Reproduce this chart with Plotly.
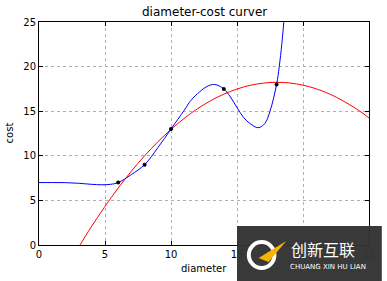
import plotly.graph_objects as go

# Observed data points
diam = [6, 8, 10, 14, 18]
cost = [7, 9, 13, 17.5, 18]

# Red (quadratic) curve
red_x = [0, 2, 3, 4, 6, 8, 10, 12, 14, 16, 18, 20, 22, 24, 25, 26]
red_y = [-8.4, -2.81, -0.27, 2.12, 6.39, 10.0, 12.96, 15.27, 16.91, 17.9, 18.24, 17.92, 16.94, 15.3, 14.24, 13.01]

# Blue (high-degree) curve
blue_x = [0, 1, 2, 3, 4, 4.7, 5.4, 6, 7, 8, 9, 10, 11, 11.5, 12, 12.7, 13.3, 14, 14.5, 15, 15.5, 16, 16.6, 17.1, 17.5, 18, 18.2, 18.4, 18.6]
blue_y = [7.0, 7.0, 6.99, 6.92, 6.8, 6.75, 6.8, 7.0, 7.9, 9.0, 10.9, 13.0, 15.1, 16.2, 16.95, 17.75, 18.0, 17.5, 16.6, 15.4, 14.3, 13.6, 13.15, 13.6, 15.0, 18.0, 20.0, 22.6, 26.0]

x_ticks = [0, 5, 10, 15, 20, 25]
x_tick_text = ["0", "5", "10", "15", "", "25"]  # "20" is hidden under the watermark in the reference
y_ticks = [0, 5, 10, 15, 20, 25]

fig = go.Figure()
fig.add_trace(go.Scatter(x=red_x, y=red_y, mode="lines", line=dict(color="red", width=1, shape="spline"), showlegend=False))
fig.add_trace(go.Scatter(x=blue_x, y=blue_y, mode="lines", line=dict(color="blue", width=1, shape="spline"), showlegend=False))
fig.add_trace(go.Scatter(x=diam, y=cost, mode="markers", marker=dict(color="black", size=4), showlegend=False))

axis_common = dict(
    showgrid=True, gridcolor="#b0b0b0", griddash="dot", gridwidth=1,
    showline=True, linecolor="black", linewidth=1, mirror="ticks",
    ticks="inside", ticklen=4, tickcolor="black",
    zeroline=False, tickfont=dict(family="DejaVu Sans", size=10, color="black"),
)

fig.update_xaxes(range=[0, 25], tickvals=x_ticks, ticktext=x_tick_text, **axis_common)
fig.update_yaxes(range=[0, 25], tickvals=y_ticks, **axis_common)

fig.update_layout(
    width=387, height=281,
    margin=dict(l=39, r=13, t=22, b=36),
    paper_bgcolor="white", plot_bgcolor="white",
    font=dict(family="DejaVu Sans", color="black"),
    annotations=[
        dict(text="diameter-cost curver", x=0.5, y=(245 - 12) / 223, xref="paper", yref="paper",
             showarrow=False, font=dict(size=12), xanchor="center", yanchor="middle"),
        dict(text="diameter", x=(206 - 39) / 335, y=(245 - 268) / 223, xref="paper", yref="paper",
             showarrow=False, font=dict(size=10), xanchor="center", yanchor="middle"),
        dict(text="cost", x=(9 - 39) / 335, y=(245 - 133) / 223, xref="paper", yref="paper",
             showarrow=False, font=dict(size=10), textangle=-90, xanchor="center", yanchor="middle"),
        dict(text="创新互联", x=(327 - 39) / 335, y=(245 - 249) / 223, xref="paper", yref="paper",
             showarrow=False, font=dict(family="Noto Sans CJK SC", size=16, color="white"),
             xanchor="center", yanchor="middle"),
        dict(text="CHUANG XIN HU LIAN", x=(332 - 39) / 335, y=(245 - 267) / 223, xref="paper", yref="paper",
             showarrow=False, font=dict(family="DejaVu Sans", size=7, color="white"),
             xanchor="center", yanchor="middle"),
    ],
    shapes=[
        dict(type="rect", xref="paper", yref="paper", x0=(240 - 39) / 335, x1=(387 - 39) / 335,
             y0=(245 - 281) / 223, y1=(245 - 226) / 223, fillcolor="#333333", opacity=0.97,
             line=dict(width=0), layer="above"),
        dict(type="circle", xref="paper", yref="paper", x0=(252 - 39) / 335, x1=(278 - 39) / 335,
             y0=(245 - 268) / 223, y1=(245 - 242) / 223, line=dict(color="white", width=4),
             layer="above"),
        dict(type="path", xref="paper", yref="paper",
             path="M %f %f L %f %f L %f %f Z" % ((262 - 39) / 335, (245 - 258) / 223,
                                                 (290 - 39) / 335, (245 - 241) / 223,
                                                 (272 - 39) / 335, (245 - 262) / 223),
             fillcolor="#f5b400", line=dict(width=0), layer="above"),
    ],
)

fig.write_html("out.html")
